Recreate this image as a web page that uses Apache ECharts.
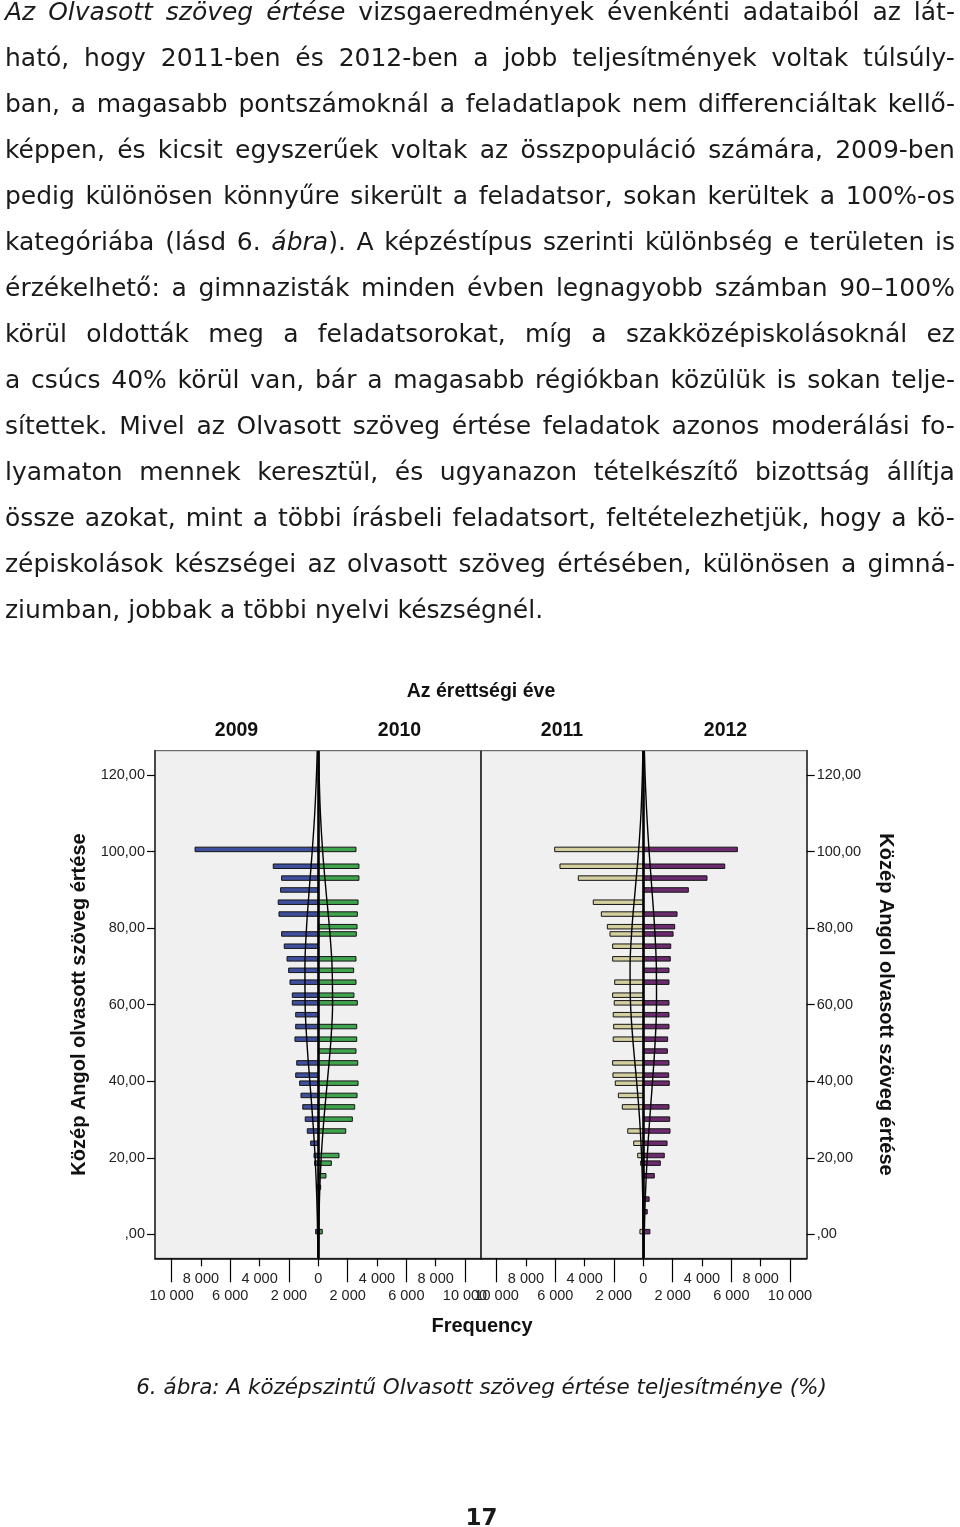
<!DOCTYPE html>
<html>
<head>
<meta charset="utf-8">
<script src="https://cdn.jsdelivr.net/npm/echarts@6/dist/echarts.min.js"></script>
<style>
html,body{margin:0;padding:0;background:#fff;}
body{width:960px;height:1527px;position:relative;overflow:hidden;}
#text{position:absolute;left:5px;top:-11px;width:950px;font-family:"DejaVu Sans",Verdana,sans-serif;font-size:25px;color:#1a1a1a;}
#text .l{display:flex;justify-content:space-between;height:46px;line-height:46px;white-space:nowrap;}
#text .last{display:block;height:46px;line-height:46px;white-space:nowrap;}
#chart{position:absolute;left:0;top:0;width:960px;height:1527px;}
#caption{position:absolute;left:0;top:1372px;width:963px;text-align:center;font-family:"DejaVu Sans",Verdana,sans-serif;font-style:italic;font-size:21.5px;line-height:30px;color:#1a1a1a;}
#page{position:absolute;left:0;top:1502px;width:963px;text-align:center;font-family:"DejaVu Sans",Verdana,sans-serif;font-weight:bold;font-size:23px;line-height:30px;color:#1a1a1a;}
</style>
</head>
<body>
<div id="chart"></div>
<div id="text"></div>
<div id="caption">6. ábra: A középszintű Olvasott szöveg értése teljesítménye (%)</div>
<div id="page">17</div>
<script>
// ---------------- DATA ----------------
const years = ['2009', '2010', '2011', '2012'];

// score (%) positions and frequencies of the histogram bars
const score2009 = [100.6, 96.2, 93.1, 90.0, 86.8, 83.7, 78.5, 75.3, 72.0, 69.0, 65.9, 62.5, 60.5, 57.4, 54.3, 51.0, 44.8, 41.6, 39.5, 36.3, 33.3, 30.1, 27.0, 23.8, 20.6, 18.6, 12.3, 0.7];
const freq2009  = [8400, 3070, 2500, 2570, 2730, 2680, 2500, 2320, 2130, 2020, 1930, 1770, 1770, 1540, 1540, 1590, 1470, 1540, 1270, 1180, 1060, 890, 750, 520, 290, 250, 110, 180];

const score2010 = [100.6, 96.2, 93.1, 86.8, 83.7, 80.4, 78.5, 72.0, 69.0, 65.9, 62.5, 60.5, 54.3, 51.0, 47.9, 44.8, 39.5, 36.3, 33.3, 30.1, 27.0, 20.6, 18.6, 15.3, 12.3, 0.7];
const freq2010  = [2570, 2770, 2770, 2710, 2660, 2640, 2590, 2570, 2410, 2570, 2430, 2660, 2620, 2620, 2570, 2690, 2710, 2640, 2480, 2320, 1870, 1410, 890, 520, 160, 270];

const score2011 = [100.6, 96.2, 93.1, 86.8, 83.7, 80.4, 78.5, 75.3, 72.0, 65.9, 62.5, 60.5, 57.4, 54.3, 51.0, 44.8, 41.6, 39.5, 36.3, 33.3, 27.0, 23.8, 20.6, 18.6, 0.7];
const freq2011  = [6040, 5680, 4430, 3410, 2860, 2450, 2270, 2090, 2090, 1950, 2090, 1980, 2050, 2020, 2050, 2090, 2070, 1910, 1700, 1430, 1060, 650, 380, 180, 230];

const score2012 = [100.6, 96.2, 93.1, 90.0, 83.7, 80.4, 78.5, 75.3, 72.0, 69.0, 65.9, 60.5, 57.4, 54.3, 51.0, 47.9, 44.8, 41.6, 39.5, 33.3, 30.1, 27.0, 23.8, 20.6, 18.6, 15.3, 9.2, 5.9, 0.7];
const freq2012  = [6410, 5550, 4340, 3070, 2300, 2140, 2030, 1870, 1840, 1750, 1750, 1750, 1750, 1750, 1660, 1640, 1750, 1730, 1770, 1750, 1800, 1820, 1620, 1430, 1160, 750, 400, 270, 450];

// normal curves (frequency at given score)
const curveScore = [-6.2, 0, 10, 20, 30, 40, 50, 60, 70, 80, 90, 100, 110, 120, 126.3];
const curve2009  = [26, 46, 107, 215, 378, 579, 772, 898, 910, 804, 620, 416, 244, 124, 74];
const curve2010  = [16, 31, 86, 197, 381, 619, 846, 972, 939, 763, 520, 299, 144, 58, 29];
const curve2011  = [6, 13, 42, 113, 249, 457, 693, 869, 902, 775, 552, 325, 158, 64, 32];
const curve2012  = [40, 67, 142, 265, 435, 630, 803, 901, 889, 773, 591, 398, 236, 123, 75];

// axis ticks
const xTicksShort = [-8000, -4000, 0, 4000, 8000];
const xTicksLong  = [-10000, -6000, -2000, 2000, 6000, 10000];
const yTicks = [0, 20, 40, 60, 80, 100, 120];

const titleText = 'Az érettségi éve';
const xName = 'Frequency';
const yName = 'Közép Angol olvasott szöveg értése';

// ---------------- PAGE TEXT ----------------
const textLines = [
  '<i>Az</i> <i>Olvasott</i> <i>szöveg</i> <i>értése</i> vizsgaeredmények évenkénti adataiból az lát-',
  'ható, hogy 2011-ben és 2012-ben a jobb teljesítmények voltak túlsúly-',
  'ban, a magasabb pontszámoknál a feladatlapok nem differenciáltak kellő-',
  'képpen, és kicsit egyszerűek voltak az összpopuláció számára, 2009-ben',
  'pedig különösen könnyűre sikerült a feladatsor, sokan kerültek a 100%-os',
  'kategóriába (lásd 6. <i>ábra</i>). A képzéstípus szerinti különbség e területen is',
  'érzékelhető: a gimnazisták minden évben legnagyobb számban 90–100%',
  'körül oldották meg a feladatsorokat, míg a szakközépiskolásoknál ez',
  'a csúcs 40% körül van, bár a magasabb régiókban közülük is sokan telje-',
  'sítettek. Mivel az Olvasott szöveg értése feladatok azonos moderálási fo-',
  'lyamaton mennek keresztül, és ugyanazon tételkészítő bizottság állítja',
  'össze azokat, mint a többi írásbeli feladatsort, feltételezhetjük, hogy a kö-',
  'zépiskolások készségei az olvasott szöveg értésében, különösen a gimná-',
  'ziumban, jobbak a többi nyelvi készségnél.'
];
(function(){
  const box = document.getElementById('text');
  textLines.forEach((ln, i) => {
    const d = document.createElement('div');
    if (i === textLines.length - 1) {
      d.className = 'last';
      d.innerHTML = ln;
    } else {
      d.className = 'l';
      ln.split(' ').forEach(w => {
        const s = document.createElement('span');
        s.innerHTML = w;
        d.appendChild(s);
      });
    }
    box.appendChild(d);
  });
})();

// ---------------- CHART ----------------
const FONT = '"Liberation Sans", Arial, sans-serif';
const fmtX = v => String(Math.abs(v)).replace(/\B(?=(\d{3})+(?!\d))/g, ' ');
const fmtY = v => (v === 0 ? '' : String(v)) + ',00';

const yMin = -6.27, yMax = 126.4;
const gridTop = 750.7, gridH = 507.6;
const panels = [
  {left: 155, width: 326, xmin: -11130, xmax: 11090},
  {left: 481, width: 325.7, xmin: -11063, xmax: 11138}
];

function xAxes(gi, p) {
  const lab = {fontFamily: FONT, fontSize: 14.5, color: '#222'};
  return [
    {type: 'value', gridIndex: gi, min: p.xmin, max: p.xmax, position: 'bottom',
     axisLine: {show: true, onZero: false, lineStyle: {color: '#000', width: 1.5}},
     axisTick: {show: true, customValues: xTicksShort, length: 8, lineStyle: {color: '#000', width: 1.2}},
     axisLabel: Object.assign({show: true, customValues: xTicksShort, formatter: fmtX, margin: 13}, lab),
     splitLine: {show: false}},
    {type: 'value', gridIndex: gi, min: p.xmin, max: p.xmax, position: 'bottom',
     axisLine: {show: false, onZero: false},
     axisTick: {show: true, customValues: xTicksLong, length: 24, lineStyle: {color: '#000', width: 1.2}},
     axisLabel: Object.assign({show: true, customValues: xTicksLong, formatter: fmtX, margin: 30}, lab),
     splitLine: {show: false}}
  ];
}

function yAxis(gi, pos) {
  return {
    type: 'value', gridIndex: gi, min: yMin, max: yMax, position: pos,
    name: yName, nameLocation: 'middle', nameGap: pos === 'left' ? 66 : 69,
    nameRotate: pos === 'left' ? 90 : -90,
    nameTextStyle: {fontFamily: FONT, fontWeight: 'bold', fontSize: 20, color: '#111'},
    axisLine: {show: true, onZero: false, lineStyle: {color: '#4a4a4a', width: 2}},
    axisTick: {show: true, customValues: yTicks, length: 8, lineStyle: {color: '#000', width: 1.2}},
    axisLabel: {show: true, customValues: yTicks, formatter: fmtY, margin: 10,
                fontFamily: FONT, fontSize: 14.5, color: '#222'},
    splitLine: {show: false}
  };
}

function renderBar(params, api) {
  const xv = api.value(0), yv = api.value(1);
  const p0 = api.coord([0, yv]);
  const p1 = api.coord([xv, yv]);
  const h = 4.5;
  return {
    type: 'rect',
    shape: {x: Math.min(p0[0], p1[0]), y: p0[1] - h / 2, width: Math.abs(p1[0] - p0[0]), height: h},
    style: {fill: api.visual('color'), stroke: '#151515', lineWidth: 1}
  };
}

function barSeries(name, scores, freqs, sign, gi, color) {
  return {
    type: 'custom', name: name, xAxisIndex: gi * 2, yAxisIndex: gi,
    renderItem: renderBar, encode: {x: 0, y: 1},
    data: scores.map((s, i) => [sign * freqs[i], s]),
    itemStyle: {color: color}, z: 2, silent: true
  };
}

function curveSeries(name, curve, sign, gi, withZero) {
  const s = {
    type: 'line', name: name + ' normal', xAxisIndex: gi * 2, yAxisIndex: gi,
    data: curveScore.map((y, i) => [sign * curve[i], y]),
    smooth: 0.35, showSymbol: false, symbol: 'none',
    lineStyle: {color: '#000', width: 1.4}, z: 3, silent: true
  };
  if (withZero) {
    s.markLine = {
      silent: true, symbol: ['none', 'none'], label: {show: false},
      lineStyle: {color: '#000', width: 2.6, type: 'solid'},
      data: [{xAxis: 0}], z: 4
    };
  }
  return s;
}

const yearX = [236.5, 399.5, 562, 725.5];

const option = {
  animation: false,
  backgroundColor: 'transparent',
  grid: panels.map(p => ({
    left: p.left, top: gridTop, width: p.width, height: gridH,
    show: true, backgroundColor: '#f0f0f0', borderColor: '#6f6f6f', borderWidth: 1.2,
    containLabel: false, outerBoundsMode: 'none'
  })),
  xAxis: [].concat(xAxes(0, panels[0]), xAxes(1, panels[1])),
  yAxis: [yAxis(0, 'left'), yAxis(1, 'right')],
  series: [
    barSeries(years[0], score2009, freq2009, -1, 0, '#3e4f9e'),
    barSeries(years[1], score2010, freq2010, 1, 0, '#3fa54d'),
    barSeries(years[2], score2011, freq2011, -1, 1, '#d3cf9f'),
    barSeries(years[3], score2012, freq2012, 1, 1, '#6c2a6f'),
    curveSeries(years[0], curve2009, -1, 0, false),
    curveSeries(years[1], curve2010, 1, 0, true),
    curveSeries(years[2], curve2011, -1, 1, false),
    curveSeries(years[3], curve2012, 1, 1, true)
  ],
  graphic: [
    {type: 'line', z: 10, silent: true,
     shape: {x1: 481, y1: gridTop, x2: 481, y2: gridTop + gridH},
     style: {stroke: '#111', lineWidth: 1.3}},
    {type: 'text', x: 481, y: 692, z: 10,
     style: {text: titleText, font: 'bold 19.5px ' + FONT, fill: '#111',
             align: 'center', verticalAlign: 'middle', textAlign: 'center', textVerticalAlign: 'middle'}},
    {type: 'text', x: 482, y: 1326, z: 10,
     style: {text: xName, font: 'bold 20px ' + FONT, fill: '#111',
             align: 'center', verticalAlign: 'middle', textAlign: 'center', textVerticalAlign: 'middle'}}
  ].concat(years.map((y, i) => ({
    type: 'text', x: yearX[i], y: 731, z: 10,
    style: {text: y, font: 'bold 19.5px ' + FONT, fill: '#111',
            align: 'center', verticalAlign: 'middle', textAlign: 'center', textVerticalAlign: 'middle'}
  })))
};

const chart = echarts.init(document.getElementById('chart'), null, {renderer: 'canvas'});
chart.setOption(option);
</script>
</body>
</html>
